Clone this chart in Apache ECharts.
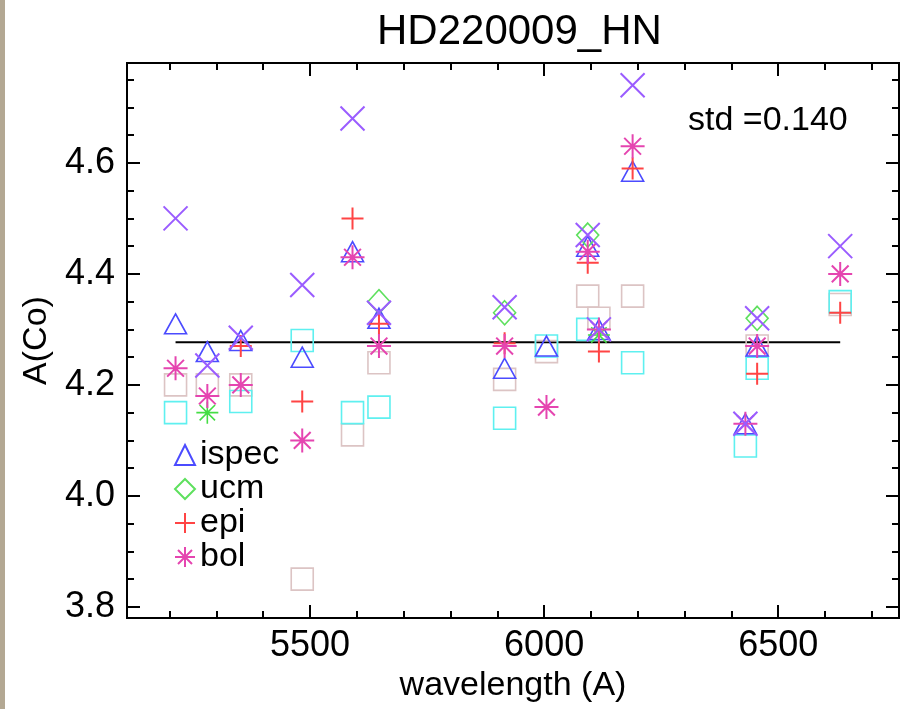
<!DOCTYPE html>
<html>
<head>
<meta charset="utf-8">
<script src="https://cdn.jsdelivr.net/npm/echarts@6/dist/echarts.min.js"></script>
<style>
html,body{margin:0;padding:0;background:#fff;}
#chart{width:900px;height:709px;}
</style>
</head>
<body>
<div id="chart"></div>
<script>
// Line wavelengths (A)
const wavelengths = [5212.7, 5280.6, 5352.0, 5483.3, 5590.7, 5647.2, 5915.6, 6005.0, 6093.1, 6117.0, 6189.0, 6429.9, 6455.0, 6632.4];
// A(Co) per method (null = not drawn)
const ispec   = [4.31, 4.26, 4.28, 4.25, 4.44, 4.32, 4.23, 4.27, 4.45, 4.30, 4.585, 4.13, 4.27, null];
const ucm     = [null, null, null, null, null, 4.35, 4.33, null, 4.47, null, null, null, 4.32, null];
const epi     = [null, null, 4.27, 4.17, 4.50, 4.31, 4.275, null, 4.42, 4.26, 4.59, null, 4.22, 4.33];
const bol     = [4.23, 4.18, 4.20, 4.10, 4.43, 4.27, 4.27, 4.16, 4.44, 4.30, 4.63, 4.13, 4.27, 4.40];
const crossV  = [4.50, 4.235, 4.285, 4.38, 4.68, 4.33, 4.34, null, 4.47, 4.30, 4.74, 4.13, 4.32, 4.45];
const cyanSq  = [4.15, null, 4.17, 4.28, 4.15, 4.16, 4.14, 4.27, 4.30, null, 4.24, 4.09, 4.23, 4.35];
const brownSq = [4.20, 4.20, 4.20, 3.85, 4.11, 4.24, 4.21, 4.26, 4.36, 4.32, 4.36, null, 4.27, 4.345];
const greenAst= [null, 4.15, null, null, null, null, null, null, null, 4.29, null, null, null, null];
const meanValue = 4.277;
const stdText = 'std =0.140';
const titleText = 'HD220009_HN';

const xMajor = [5500, 6000, 6500];
const xMinor = [5200, 5300, 5400, 5600, 5700, 5800, 5900, 6100, 6200, 6300, 6400, 6600, 6700];
const yMajor = [3.8, 4.0, 4.2, 4.4, 4.6];
const yMinor = [3.85, 3.9, 3.95, 4.05, 4.1, 4.15, 4.25, 4.3, 4.35, 4.45, 4.5, 4.55, 4.65, 4.7, 4.75];

const XMIN = 5109, XMAX = 6758, YMIN = 3.78, YMAX = 4.78;
const FONT = "'Liberation Sans', Arial, Helvetica, sans-serif";

function pts(vals) {
  const out = [];
  vals.forEach((v, i) => { if (v !== null) out.push([wavelengths[i], v]); });
  return out;
}

const SYM_X = 'path://M0,0L1,1M1,0L0,1';
const SYM_PLUS = 'path://M0.5,0L0.5,1M0,0.5L1,0.5';
const SYM_AST = 'path://M0.5,0L0.5,1M0,0.5L1,0.5M0.15,0.15L0.85,0.85M0.85,0.15L0.15,0.85';

function hollow(name, data, symbol, size, color, bw) {
  return {
    name: name, type: 'scatter', data: pts(data), symbol: symbol, symbolSize: size,
    itemStyle: { color: 'rgba(0,0,0,0)', borderColor: color, borderWidth: bw || 1.6, opacity: 1 },
    emphasis: { disabled: true }, animation: false
  };
}

const chart = echarts.init(document.getElementById('chart'), null, { renderer: 'canvas' });

function xAx(pos, vals, len, labels, name) {
  return {
    type: 'value', min: XMIN, max: XMAX, position: pos, gridIndex: 0,
    axisLine: { show: true, onZero: false, lineStyle: { color: '#000', width: 2 } },
    axisTick: { show: true, inside: true, length: len, customValues: vals, lineStyle: { color: '#000', width: 2 } },
    axisLabel: labels ? { show: true, customValues: vals, fontSize: 36, margin: 10, color: '#000', fontFamily: FONT,
      formatter: v => String(Math.round(v)) } : { show: false },
    splitLine: { show: false },
    name: name || '', nameLocation: 'middle', nameGap: 42,
    nameTextStyle: { fontSize: 34, color: '#000', fontFamily: FONT }
  };
}
function yAx(pos, vals, len, labels, name) {
  return {
    type: 'value', min: YMIN, max: YMAX, position: pos, gridIndex: 0,
    axisLine: { show: true, onZero: false, lineStyle: { color: '#000', width: 2 } },
    axisTick: { show: true, inside: true, length: len, customValues: vals, lineStyle: { color: '#000', width: 2 } },
    axisLabel: labels ? { show: true, customValues: vals, fontSize: 36, margin: 12, color: '#000', fontFamily: FONT,
      formatter: v => v.toFixed(1) } : { show: false },
    splitLine: { show: false },
    name: name || '', nameLocation: 'middle', nameGap: 70, nameRotate: 90,
    nameTextStyle: { fontSize: 34, color: '#000', fontFamily: FONT }
  };
}

const option = {
  backgroundColor: '#fff',
  animation: false,
  title: {
    text: titleText, left: 372, top: 6,
    textStyle: { fontSize: 42, fontWeight: 'normal', color: '#000', fontFamily: FONT }
  },
  grid: { left: 127, right: 1, top: 63, bottom: 91, containLabel: false },
  legend: {
    data: ['ispec', 'ucm', 'epi', 'bol'],
    orient: 'vertical', left: 174, top: 438, padding: 0,
    itemWidth: 20, itemHeight: 20, itemGap: 0,
    textStyle: { fontSize: 34, lineHeight: 34, color: '#000', fontFamily: FONT },
    selectedMode: false
  },
  xAxis: [
    xAx('bottom', xMajor, 13, true, 'wavelength (A)'),
    xAx('bottom', xMinor, 7, false),
    xAx('top', xMajor, 13, false),
    xAx('top', xMinor, 7, false)
  ],
  yAxis: [
    yAx('left', yMajor, 13, true, 'A(Co)'),
    yAx('left', yMinor, 7, false),
    yAx('right', yMajor, 13, false),
    yAx('right', yMinor, 7, false)
  ],
  graphic: [
    { type: 'rect', left: 0, top: 0, shape: { width: 5, height: 709 }, style: { fill: '#b3a893' }, silent: true },
    { type: 'text', left: 688, top: 104, style: { text: stdText, fontSize: 34, fill: '#000', fontFamily: FONT }, silent: true }
  ],
  series: [
    hollow('brownsq', brownSq, 'rect', 22, '#dcc4c4'),
    hollow('cyansq', cyanSq, 'rect', 22, '#5ef0f0'),
    {
      name: 'mean', type: 'line', data: [[wavelengths[0], meanValue], [wavelengths[wavelengths.length - 1], meanValue]],
      symbol: 'none', lineStyle: { color: '#000', width: 2 }, emphasis: { disabled: true }, animation: false, z: 1
    },
    hollow('ispec', ispec, 'triangle', [22, 20], '#4b4bff'),
    hollow('ucm', ucm, 'diamond', [22, 24], '#5ee05e'),
    hollow('green', greenAst, SYM_AST, 22, '#44dd44'),
    hollow('epi', epi, SYM_PLUS, 22, '#ff4444', 2),
    hollow('bol', bol, SYM_AST, 24, '#e545b0', 2),
    hollow('cross', crossV, SYM_X, 24, '#9a5cff', 2)
  ]
};
chart.setOption(option);
</script>
</body>
</html>
